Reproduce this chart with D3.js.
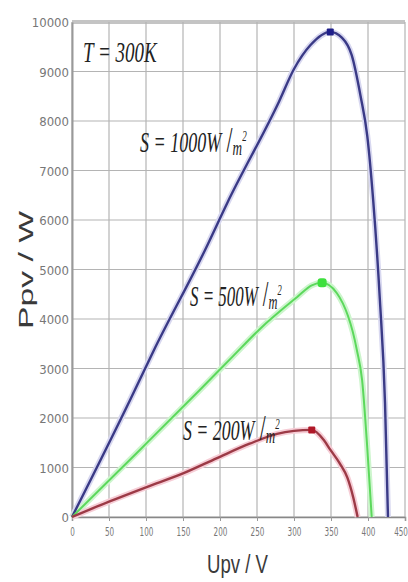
<!DOCTYPE html>
<html><head><meta charset="utf-8">
<script src="https://cdn.jsdelivr.net/npm/d3@7"></script>
<style>body{margin:0;background:#fff}svg{display:block}</style>
</head><body>
<svg id="c" width="408" height="582"></svg>
<script>
// ---- data ----
const xTicks = [0, 50, 100, 150, 200, 250, 300, 350, 400, 450];
const yTicks = [0, 1000, 2000, 3000, 4000, 5000, 6000, 7000, 8000, 9000, 10000];
const seriesLabels = ["S = 1000W", "S = 500W", "S = 200W"];
const v1000 = [0, 78, 110, 180, 210, 280, 300, 322, 349, 365, 378, 390, 399, 407, 416, 423, 427];
const p1000 = [0, 2350, 3350, 5400, 6350, 8400, 9050, 9530, 9800, 9680, 9330, 8500, 7700, 6400, 4400, 2300, 0];
const v500 = [0, 92, 173, 217, 254, 304, 324, 338, 358, 385, 392, 399, 405];
const p500 = [0, 1360, 2570, 3240, 3800, 4440, 4680, 4730, 4520, 3370, 2770, 1400, 0];
const v200 = [0, 50, 100, 150, 196, 240, 277, 300, 324, 340, 349, 362, 372, 380, 386];
const p200 = [0, 310, 600, 880, 1190, 1480, 1680, 1740, 1760, 1560, 1360, 1080, 800, 400, 0];
const mppV = [349, 338, 324];
const mppP = [9800, 4730, 1760];

// ---- layout ----
const svg = d3.select("#c");
const L = 72, R = 405, T = 22, B = 517;
const x = d3.scaleLinear().domain([0, 450]).range([L, R]);
const y = d3.scaleLinear().domain([0, 10000]).range([B, T]);

const colors = ["#3a3a86", "#5cd85c", "#9c3a46"];
const halos = ["#d8d8f0", "#cdf5cd", "#f6cdd6"];

// grid
svg.append("g").selectAll("line").data(yTicks).join("line")
  .attr("x1", L).attr("x2", R).attr("y1", d => y(d)).attr("y2", d => y(d))
  .attr("stroke", (d) => d === 10000 ? "#c4c4c4" : "#b4b4b4")
  .attr("stroke-width", d => d === 10000 ? 4 : 1.2);
svg.append("g").selectAll("line").data(xTicks).join("line")
  .attr("x1", d => x(d)).attr("x2", d => x(d)).attr("y1", T).attr("y2", B)
  .attr("stroke", "#b4b4b4").attr("stroke-width", 1.2);

// axes
const yAxis = svg.append("g").attr("transform", `translate(${L},0)`)
  .call(d3.axisLeft(y).tickValues(yTicks).tickFormat(d3.format("d")).tickSize(0).tickPadding(3));
yAxis.select(".domain").attr("stroke", "#999").attr("stroke-width", 2);
yAxis.selectAll("text").attr("font-family", "DejaVu Sans Condensed, Liberation Sans Narrow, sans-serif")
  .attr("font-size", 13).attr("fill", "#777").attr("dy", "0.35em");

const xAxis = svg.append("g").attr("transform", `translate(0,${B})`)
  .call(d3.axisBottom(x).tickValues(xTicks).tickFormat(d3.format("d")).tickSize(4).tickPadding(6));
xAxis.select(".domain").attr("stroke", "#888").attr("stroke-width", 1.5);
xAxis.selectAll("line").attr("stroke", "#999");
xAxis.selectAll("text").attr("font-family", "DejaVu Sans Condensed, sans-serif")
  .attr("font-size", 13).attr("fill", "#777").attr("transform", "scale(0.62,1)")
  .attr("text-anchor", d => d === 450 ? "end" : "middle")
  .attr("x", d => d === 450 ? 4 : 0);

// curves
const series = [[v1000, p1000], [v500, p500], [v200, p200]];
const line = d3.line().x(d => x(d[0])).y(d => y(d[1])).curve(d3.curveMonotoneX);
series.forEach(([vs, ps], i) => {
  const pts = vs.map((v, j) => [v, ps[j]]);
  svg.append("path").attr("d", line(pts)).attr("fill", "none")
    .attr("stroke", halos[i]).attr("stroke-width", 6).attr("stroke-linejoin", "round");
});
series.forEach(([vs, ps], i) => {
  const pts = vs.map((v, j) => [v, ps[j]]);
  svg.append("path").attr("d", line(pts)).attr("fill", "none")
    .attr("stroke", colors[i]).attr("stroke-width", i === 1 ? 2 : 2.4).attr("stroke-linejoin", "round");
});

// MPP markers
svg.append("g").selectAll("rect").data(mppV).join("rect")
  .attr("x", (d, i) => x(d) - (i === 1 ? 4.5 : 3.5))
  .attr("y", (d, i) => y(mppP[i]) - (i === 1 ? 4.5 : 3.5))
  .attr("width", (d, i) => i === 1 ? 9 : 7).attr("height", (d, i) => i === 1 ? 9 : 7)
  .attr("rx", (d, i) => i === 1 ? 3 : 1)
  .attr("fill", (d, i) => ["#1e1e8a", "#3ee03e", "#b01828"][i]);

// annotations
function fitText(g, x0, x1, baseline) {
  const bb = g.node().getBBox();
  const s = (x1 - x0) / bb.width;
  g.attr("transform", `translate(${x0 - bb.x * s},${baseline}) scale(${s},1)`);
}
const serif = "Liberation Serif, Times New Roman, serif";
const tg = svg.append("g");
tg.append("text").attr("font-family", serif).attr("font-style", "italic")
  .attr("font-size", 30).attr("fill", "#222").text("T = 300K");
fitText(tg, 83, 158, 62);

const ann = [
  {x0: 140, x1: 247, base: 152},
  {x0: 190, x1: 282, base: 306},
  {x0: 183, x1: 280, base: 440}
];
seriesLabels.forEach((lab, i) => {
  const g = svg.append("g");
  const t = g.append("text").attr("font-family", serif).attr("font-style", "italic").attr("fill", "#222");
  t.append("tspan").attr("font-size", 30).text(lab);
  t.append("tspan").attr("font-size", 36).attr("font-style", "normal").text(" /");
  t.append("tspan").attr("font-size", 22).attr("dy", 3).text("m");
  t.append("tspan").attr("font-size", 15).attr("dy", -14).text("2");
  fitText(g, ann[i].x0, ann[i].x1, ann[i].base);
});

// axis titles
svg.append("text").attr("transform", "translate(33,270) rotate(-90)")
  .attr("text-anchor", "middle").attr("font-family", "Liberation Sans, Arial, sans-serif")
  .attr("font-size", 20).attr("fill", "#3a3a3a")
  .attr("textLength", 118).attr("lengthAdjust", "spacingAndGlyphs").text("Ppv / W");
svg.append("text").attr("x", 207).attr("y", 573)
  .attr("font-family", "Liberation Sans, Arial, sans-serif")
  .attr("font-size", 25).attr("fill", "#3a3a3a")
  .attr("textLength", 61).attr("lengthAdjust", "spacingAndGlyphs").text("Upv / V");
</script>
</body></html>
